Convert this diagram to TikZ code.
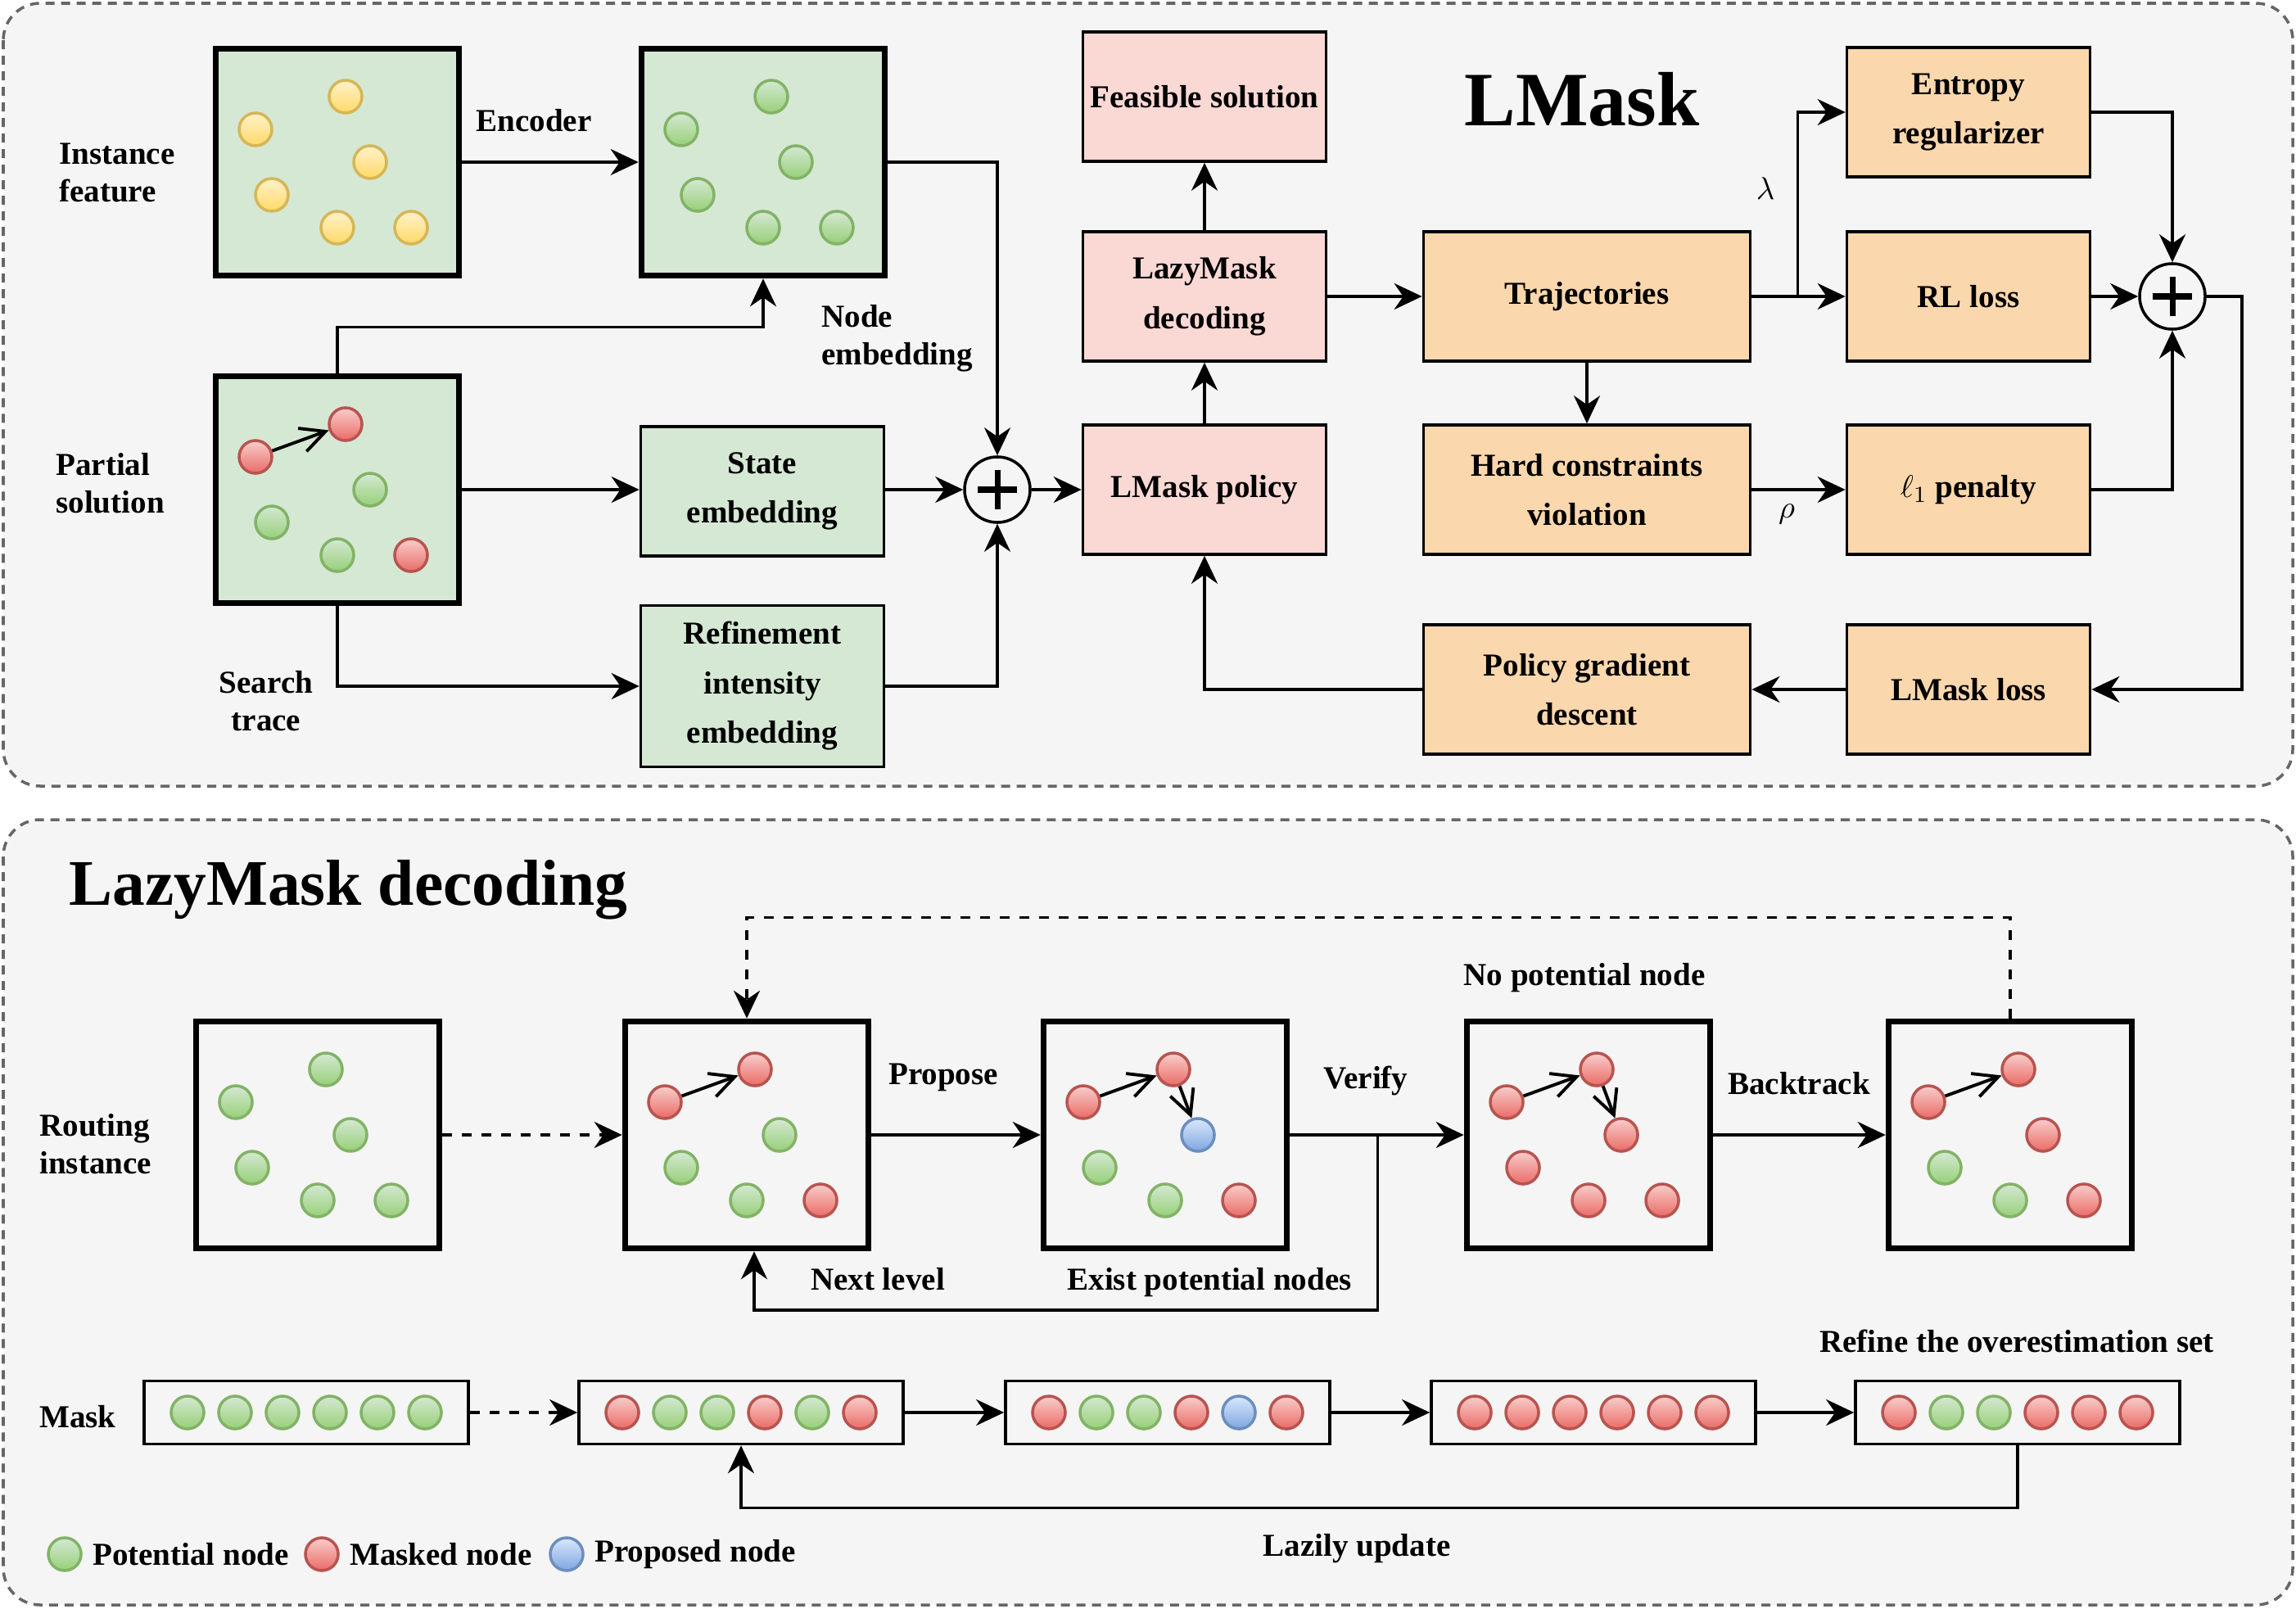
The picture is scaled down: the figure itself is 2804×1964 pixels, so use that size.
\documentclass[tikz,border=0pt]{standalone}
\usepackage{fontspec}
\setmainfont{Liberation Serif}
\usetikzlibrary{arrows.meta,positioning}
\definecolor{fondo}{HTML}{F5F5F5}
\definecolor{bordegris}{HTML}{666666}
\definecolor{verdecaja}{HTML}{D5E8D4}
\definecolor{rosacaja}{HTML}{FAD9D5}
\definecolor{naranjacaja}{HTML}{FAD7AC}
\definecolor{verdeclaro}{HTML}{D5E8D4}
\definecolor{verdeoscuro}{HTML}{97D077}
\definecolor{verdeborde}{HTML}{82B366}
\definecolor{rojoclaro}{HTML}{F8CECC}
\definecolor{rojooscuro}{HTML}{EA6B66}
\definecolor{rojoborde}{HTML}{B85450}
\definecolor{amarilloclaro}{HTML}{FFF2CC}
\definecolor{amarillooscuro}{HTML}{FFD966}
\definecolor{amarilloborde}{HTML}{D6B656}
\definecolor{azulclaro}{HTML}{DAE8FC}
\definecolor{azuloscuro}{HTML}{7EA6E0}
\definecolor{azulborde}{HTML}{6C8EBF}
% seis puntos dentro de un marco
\newcommand{\nubepuntos}[2]{%
  \foreach \c [count=\i] in {#2}{%
    \pgfmathsetmacro\dx{{10,-100,40,-80,0,90}[\i-1]}%
    \pgfmathsetmacro\dy{{-80,-40,0,40,80,80}[\i-1]}%
    \node[punto/.expanded=\c] (#1-\i) at ([shift={(\dx,\dy)}]#1.center) {};}}
% seis puntos en fila (mascara)
\newcommand{\filapuntos}[2]{%
  \foreach \c [count=\i] in {#2}{%
    \node[punto/.expanded=\c] (#1-\i) at ([shift={({58*\i-203},0)}]#1.center) {};}}

\begin{document}
\begin{tikzpicture}[
  x=0.01cm, y=-0.01cm,
  every node/.style={font=\fontsize{11.1}{17.2}\selectfont\bfseries},
  etiq/.style={align=left, font=\fontsize{11.1}{13}\selectfont\bfseries},
  panel/.style={
    draw=bordegris, line width=1pt, fill=fondo,
    dash pattern=on 0.11cm off 0.08cm,
    rounded corners=0.45cm},
  marco/.style={
    draw, line width=2.1pt, inner sep=0pt,
    minimum width=2.97cm, minimum height=2.77cm},
  caja/.style={
    draw, line width=1pt, inner sep=1pt, align=center,
    minimum width=2.97cm, minimum height=1.58cm},
  ancha/.style={caja, fill=naranjacaja, minimum width=3.99cm},
  arreglo/.style={
    draw, line width=1pt, inner sep=0pt,
    minimum width=3.96cm, minimum height=0.77cm},
  punto/.style={
    circle, inner sep=0pt, minimum size=0.4cm, line width=1pt,
    draw=#1borde, top color=#1claro, bottom color=#1oscuro},
  suma/.style={
    circle, draw, line width=1pt, fill=fondo,
    minimum size=0.8cm, inner sep=0pt,
    path picture={
      \draw[line width=2pt]
        ([xshift=-0.24cm]path picture bounding box.center)
        -- ([xshift=0.24cm]path picture bounding box.center);
      \draw[line width=2pt]
        ([yshift=-0.24cm]path picture bounding box.center)
        -- ([yshift=0.24cm]path picture bounding box.center);}},
  flecha/.style={-{Stealth[length=0.34cm, width=0.32cm]}, line width=1pt},
  flechapunt/.style={flecha, dash pattern=on 0.12cm off 0.12cm},
  trazo/.style={-{Straight Barb[length=0.3cm, width=0.3cm]}, line width=1.1pt}
]
  \useasboundingbox (0,0) rectangle (2804,1964);

  %% ── Paneles ───────────────────────────────────────────────
  \draw[panel] (4,4) rectangle (2800,960);
  \draw[panel] (4,1001) rectangle (2800,1960);

  %% ── LMask: entradas ───────────────────────────────────────
  \node[marco, fill=verdecaja](inf) at (412,198) {};
  \node[marco, fill=verdecaja](emb) at (932,198) {};
  \node[marco, fill=verdecaja](psol) at (412,598) {};
  \node[caja, fill=verdecaja](est) at (931,600) {State\\embedding};
  \node[caja, fill=verdecaja, minimum height=1.97cm](ref) at (931,838)
    {Refinement\\intensity\\embedding};
  \node[suma](sumA) at (1218,598) {};

  \nubepuntos{inf}{amarillo,amarillo,amarillo,amarillo,amarillo,amarillo}
  \nubepuntos{emb}{verde,verde,verde,verde,verde,verde}
  \nubepuntos{psol}{rojo,rojo,verde,verde,verde,rojo}
  \draw[trazo] (psol-2) -- (psol-1);

  \node[etiq, anchor=west] (linf) at (60,211) {Instance\\feature};
  \node (lenc) at (652,147) {Encoder};
  \node[etiq, anchor=west] (lnod) at (991,413) {Node\\embedding};
  \node[etiq, anchor=west] (lpar) at (56,590) {Partial\\solution};
  \node[etiq, align=center] (lsea) at (325,856) {Search\\trace};

  %% ── LMask: politica y perdidas ───────────────────────────
  \node[caja, fill=rosacaja](pol) at (1471,598) {LMask policy};
  \node[caja, fill=rosacaja](dec) at (1471,362) {LazyMask\\decoding};
  \node[caja, fill=rosacaja](fea) at (1471,118) {Feasible solution};
  \node[ancha](tra) at (1938,362) {Trajectories};
  \node[ancha](hcv) at (1938,598) {Hard constraints\\violation};
  \node[ancha](pgd) at (1938,842) {Policy gradient\\descent};
  \node[caja, fill=naranjacaja](ent) at (2404,137) {Entropy\\regularizer};
  \node[caja, fill=naranjacaja](rl) at (2404,362) {RL loss};
  \node[caja, fill=naranjacaja](l1) at (2404,598) {$\ell_1$ penalty};
  \node[caja, fill=naranjacaja](lml) at (2404,842) {LMask loss};
  \node[suma](sumB) at (2653,362) {};

  \node[font=\fontsize{26.7}{30}\selectfont\bfseries] (tit) at (1932,121) {LMask};
  \node (llam) at (2156,230) {$\lambda$};
  \node (lrho) at (2182,628) {$\rho$};

  %% ── LMask: conexiones ─────────────────────────────────────
  \draw[flecha] (inf) -- (emb);
  \draw[flecha] (psol.north) -- ++(0,-56) -| (emb.south);
  \draw[flecha] (psol) -- (psol -| est.west);
  \draw[flecha] (psol.south) |- (ref.west);
  \draw[flecha] (emb.east) -| (sumA.north);
  \draw[flecha] (sumA -| est.east) -- (sumA);
  \draw[flecha] (ref.east) -| (sumA.south);
  \draw[flecha] (sumA) -- (pol);
  \draw[flecha] (pol) -- (dec);
  \draw[flecha] (dec) -- (fea);
  \draw[flecha] (dec) -- (tra);
  \draw[flecha] (tra) -- (hcv);
  \draw[flecha] (tra) -- (rl);
  \draw[flecha] (tra.east) -- ++(56,0) |- (ent.west);
  \draw[flecha] (hcv) -- (l1);
  \draw[flecha] (rl) -- (sumB);
  \draw[flecha] (ent.east) -| (sumB.north);
  \draw[flecha] (l1.east) -| (sumB.south);
  \draw[flecha] (sumB.east) -- ++(43,0) |- (lml.east);
  \draw[flecha] (lml) -- (pgd);
  \draw[flecha] (pgd.west) -| (pol.south);

  %% ── LazyMask decoding ─────────────────────────────────────
  \node[font=\fontsize{22.6}{26}\selectfont\bfseries, anchor=base west]
    (tit2) at (72,1105) {LazyMask decoding};

  \node[marco](ri) at (388,1386) {};
  \node[marco](c2) at (912,1386) {};
  \node[marco](c3) at (1423,1386) {};
  \node[marco](c4) at (1940,1386) {};
  \node[marco](c5) at (2455,1386) {};

  \nubepuntos{ri}{verde,verde,verde,verde,verde,verde}
  \nubepuntos{c2}{rojo,rojo,verde,verde,verde,rojo}
  \nubepuntos{c3}{rojo,rojo,azul,verde,verde,rojo}
  \nubepuntos{c4}{rojo,rojo,rojo,rojo,rojo,rojo}
  \nubepuntos{c5}{rojo,rojo,rojo,verde,verde,rojo}
  \draw[trazo] (c2-2) -- (c2-1);
  \draw[trazo] (c3-2) -- (c3-1);
  \draw[trazo] (c3-1) -- (c3-3);
  \draw[trazo] (c4-2) -- (c4-1);
  \draw[trazo] (c4-1) -- (c4-3);
  \draw[trazo] (c5-2) -- (c5-1);

  \node[arreglo](m1) at (374,1725) {};
  \node[arreglo](m2) at (905,1725) {};
  \node[arreglo](m3) at (1426,1725) {};
  \node[arreglo](m4) at (1946,1725) {};
  \node[arreglo](m5) at (2464,1725) {};

  \filapuntos{m1}{verde,verde,verde,verde,verde,verde}
  \filapuntos{m2}{rojo,verde,verde,rojo,verde,rojo}
  \filapuntos{m3}{rojo,verde,verde,rojo,azul,rojo}
  \filapuntos{m4}{rojo,rojo,rojo,rojo,rojo,rojo}
  \filapuntos{m5}{rojo,verde,verde,rojo,rojo,rojo}

  \node[etiq, anchor=west] (lrou) at (36,1397) {Routing\\instance};
  \node[anchor=west] (lmas) at (36,1730) {Mask};
  \node (lpro) at (1152,1316) {Propose};
  \node (lver) at (1668,1320) {Verify};
  \node (lbac) at (2197,1323) {Backtrack};
  \node (lnop) at (1935,1194) {No potential node};
  \node (lnex) at (1072,1562) {Next level};
  \node (lexi) at (1477,1566) {Exist potential nodes};
  \node (lref) at (2463,1638) {Refine the overestimation set};
  \node (llaz) at (1657,1891) {Lazily update};

  %% ── LazyMask: conexiones ──────────────────────────────────
  \draw[flechapunt] (ri) -- (c2);
  \draw[flecha] (c2) -- (c3);
  \draw[flecha] (c3) -- (c4);
  \draw[flecha] (c4) -- (c5);
  \draw[flechapunt] (c5.north) -- ++(0,-123) -| (c2.north);
  \draw[flecha] ([xshift=1.07cm]c3.east) -- ++(0,214) -| ([xshift=0.09cm]c2.south);
  \draw[flechapunt] (m1) -- (m2);
  \draw[flecha] (m2) -- (m3);
  \draw[flecha] (m3) -- (m4);
  \draw[flecha] (m4) -- (m5);
  \draw[flecha] (m5.south) -- ++(0,76) -| (m2.south);

  %% ── Leyenda ───────────────────────────────────────────────
  \node[punto=verde](legv) at (79,1898) {};
  \node[right=0pt of legv] (legvt) {Potential node};
  \node[punto=rojo](legr) at (393,1898) {};
  \node[right=0pt of legr] (legrt) {Masked node};
  \node[punto=azul](lega) at (692,1898) {};
  \node[right=0pt of lega] (legat) {Proposed node};

\end{tikzpicture}
\end{document}
